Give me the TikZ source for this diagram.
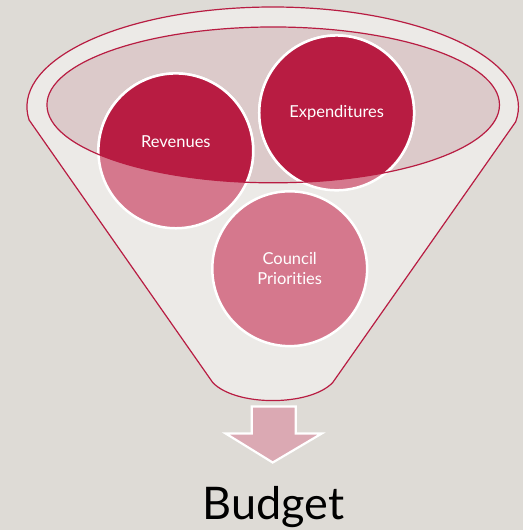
\documentclass[tikz,border=0pt]{standalone}
\usepackage{fontspec}
\setmainfont{Lato}[Ligatures={NoCommon,NoContextual}]
\usepackage{tikz}
\definecolor{bgGrey}{HTML}{DEDBD6}
\definecolor{funnelGrey}{HTML}{ECEAE7}
\definecolor{rimPink}{HTML}{DCCACA}
\definecolor{darkRed}{HTML}{B81C42}
\definecolor{lightRed}{HTML}{D5788D}
\definecolor{arrowPink}{HTML}{DBA9B3}
\tikzset{ball/.style={circle, draw=white, line width=2.5pt, minimum size=155pt, inner sep=0pt},
	balltext/.style={text=white, font=\fontsize{16.5}{20}\selectfont, align=center}}

\begin{document}
\begin{tikzpicture}[x=1pt,y=-1pt]
		
		\fill[bgGrey] (0,0) rectangle (524,531);
		
		% funnel body
		\draw[darkRed, line width=1.2pt, fill=funnelGrey] (29.1,120.05) arc[start angle=172.5, end angle=368.6, x radius=246, y radius=100]
			-- (333,383) .. controls (310,407) and (236,407) .. (213,383) -- cycle;
		\fill[rimPink] (273.5,105) ellipse[x radius=226.5, y radius=78];
		
		\node[ball, fill=lightRed] (rev) at (176,151) {};
		\node[ball, fill=lightRed] (exp) at (337,113) {};
		\node[ball, fill=lightRed] (pri) at (290,269) {};
		
		\begin{scope}
			\clip (273.5,105) ellipse[x radius=226.5, y radius=78];
			\node[ball, fill=darkRed] at (rev) {};
			\node[ball, fill=darkRed] at (exp) {};
		\end{scope}
		\draw[darkRed, line width=1.2pt] (273.5,105) ellipse[x radius=226.5, y radius=78];
		
		\node[balltext] at ([yshift=9pt]rev.center) {Revenues};
		\node[balltext] at (exp.center) {Expenditures};
		\node[balltext] at (pri.center) {Council\\Priorities};
		
		% arrow down
		\draw[white, line width=2.2pt, fill=arrowPink, line join=miter] (252,407) -- (296,407) -- (296,434) -- (322,434) -- (273,463) -- (226,434) -- (252,434) -- cycle;
		\node[anchor=base, font=\fontsize{45}{50}\selectfont] (bud) at (274,520) {Budget};
	\end{tikzpicture}
\end{document}
